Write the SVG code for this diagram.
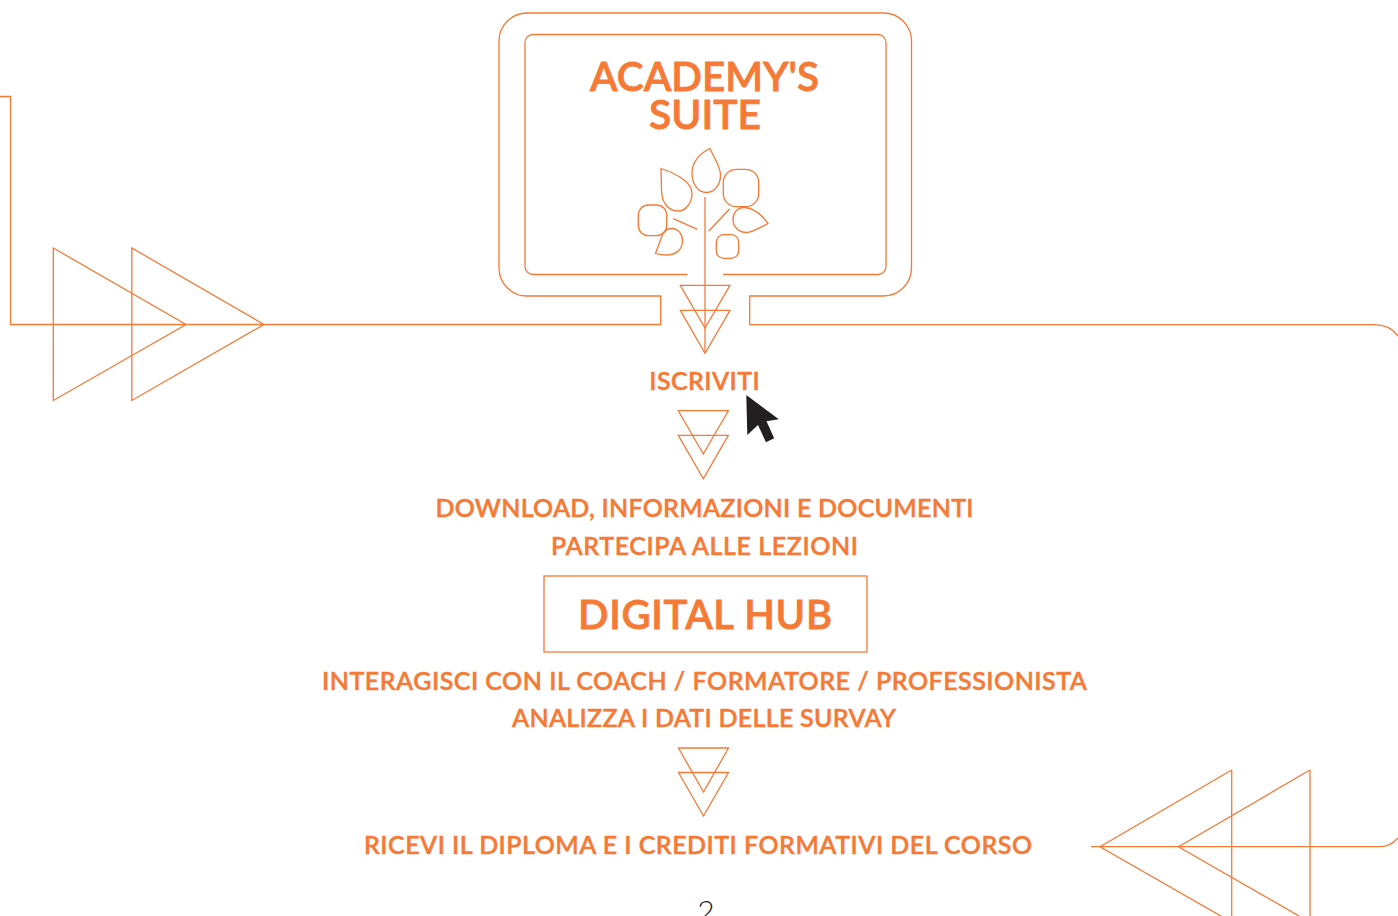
<svg xmlns="http://www.w3.org/2000/svg" width="1398" height="916" viewBox="0 0 1398 916">
<style>
.l{fill:none;stroke:#f47a36;stroke-width:1.3;stroke-linejoin:miter}
text{font-family:Lato,"Noto Sans",sans-serif;fill:#f47a36;text-anchor:middle;font-weight:600}
.t{font-size:25px;stroke:#f47a36;stroke-width:.45}
.h{font-size:40px;stroke:#f47a36;stroke-width:.8}
</style>
<rect width="1398" height="916" fill="#fff"/>
<g id="connectors">
<path class="l" d="M0,96.5H10.5V324.5H660.7V296H527A28,28 0 0 1 499,268V41A28,28 0 0 1 527,13H883.500A28,28 0 0 1 911.500,41V268A28,28 0 0 1 883.500,296H749.7V324.7H1374C1385,324.7 1393,329 1398,336"/>
<path class="l" d="M1091,846.700H1380C1387,846.700 1393,844 1398,838"/>
<path class="l" d="M705,197V353"/>
<path class="l" d="M687.500,274.500H533A8,8 0 0 1 525,266.500V42.500A8,8 0 0 1 533,34.500H878A8,8 0 0 1 886,42.500V266.500A8,8 0 0 1 878,274.500H723"/>
</g>
<g id="arrows-left">
<path class="l" d="M53.300,248V400.500L186,324.500Z"/>
<path class="l" d="M131.800,248V400.500L264,324.500Z"/>
</g>
<g id="arrows-right">
<path class="l" d="M1231.700,770V930M1231.700,770L1100,846.700L1240,927"/>
<path class="l" d="M1310,770V930M1310,770L1178.500,846.700L1318,927"/>
</g>
<g id="academy-suite">
<text class="h" x="704.500" y="91" textLength="229" lengthAdjust="spacingAndGlyphs">ACADEMY'S</text>
<text class="h" x="705" y="129" textLength="112" lengthAdjust="spacingAndGlyphs">SUITE</text>
</g>
<g id="tree">
<path class="l" d="M710,148.500C700,153 692,162 692,173C692,184 698,192.500 706.500,192.500C715,192.500 720.500,184 720.500,175C720.500,166 714,158 710,148.500Z"/>
<path class="l" d="M661,168.500C672,172 692,181 692,193C692,203 686,211 678,211C668,211 661.500,202 661.500,190Z"/>
<rect class="l" x="723.300" y="169.300" width="35.400" height="37.400" rx="13"/>
<rect class="l" x="638.300" y="205" width="28.400" height="30.700" rx="10"/>
<rect class="l" x="716.300" y="234.700" width="22.400" height="23.600" rx="7.500"/>
<path class="l" d="M655.500,253.500L663,233C666,229.500 669,228.500 672,228.500C678,228.500 682.500,234 682.500,241C682.500,250 675,255 667,255C663,255 659,254.500 655.500,253.500Z"/>
<path class="l" d="M768,223.500C761,214 753,207.500 744,207.500C737,207.500 733,213 733,219.500C733,227 739,232.500 746.500,232.500C752,232.500 761,227 768,223.500Z"/>
<path class="l" d="M673.300,218.700L697.300,229.300M729.700,208.700L708.700,231.300"/>
</g>
<g id="arrows-1">
<path class="l" d="M680.300,285.300H730L705,328Z"/>
<path class="l" d="M680.300,310.300H730L705,353.300Z"/>
</g>
<g id="iscriviti">
<text class="t" x="704.500" y="390" textLength="110.500" lengthAdjust="spacing">ISCRIVITI</text>
<path d="M746.300,395L778.800,419.300L766.500,421.300L774.200,438.300L766,442.300L758,425L747.300,435Z" fill="#231f20"/>
</g>
<g id="arrows-2">
<path class="l" d="M678.300,410.700H728.300L703.300,454Z"/>
<path class="l" d="M678.300,435.300H728.300L703.300,478.700Z"/>
</g>
<g id="download">
<text class="t" x="704.500" y="517" textLength="538" lengthAdjust="spacing">DOWNLOAD, INFORMAZIONI E DOCUMENTI</text>
<text class="t" x="704.500" y="555" textLength="307" lengthAdjust="spacing">PARTECIPA ALLE LEZIONI</text>
</g>
<g id="digital-hub">
<rect class="l" x="544" y="576" width="323" height="76"/>
<text class="h" x="705" y="629" textLength="254" lengthAdjust="spacing">DIGITAL HUB</text>
</g>
<g id="interagisci">
<text class="t" x="704.500" y="690" textLength="765" lengthAdjust="spacing">INTERAGISCI CON IL COACH / FORMATORE / PROFESSIONISTA</text>
<text class="t" x="704" y="727" textLength="384" lengthAdjust="spacing">ANALIZZA I DATI DELLE SURVAY</text>
</g>
<g id="arrows-3">
<path class="l" d="M678.500,748H728.500L703.500,792Z"/>
<path class="l" d="M678.500,772.500H728.500L703.500,816Z"/>
</g>
<g id="diploma">
<text class="t" x="698" y="854" textLength="668" lengthAdjust="spacing">RICEVI IL DIPLOMA E I CREDITI FORMATIVI DEL CORSO</text>
</g>
<g id="page">
<text x="706" y="922" style="font-size:30px;font-weight:300;fill:#231f20">2</text>
</g>
</svg>
